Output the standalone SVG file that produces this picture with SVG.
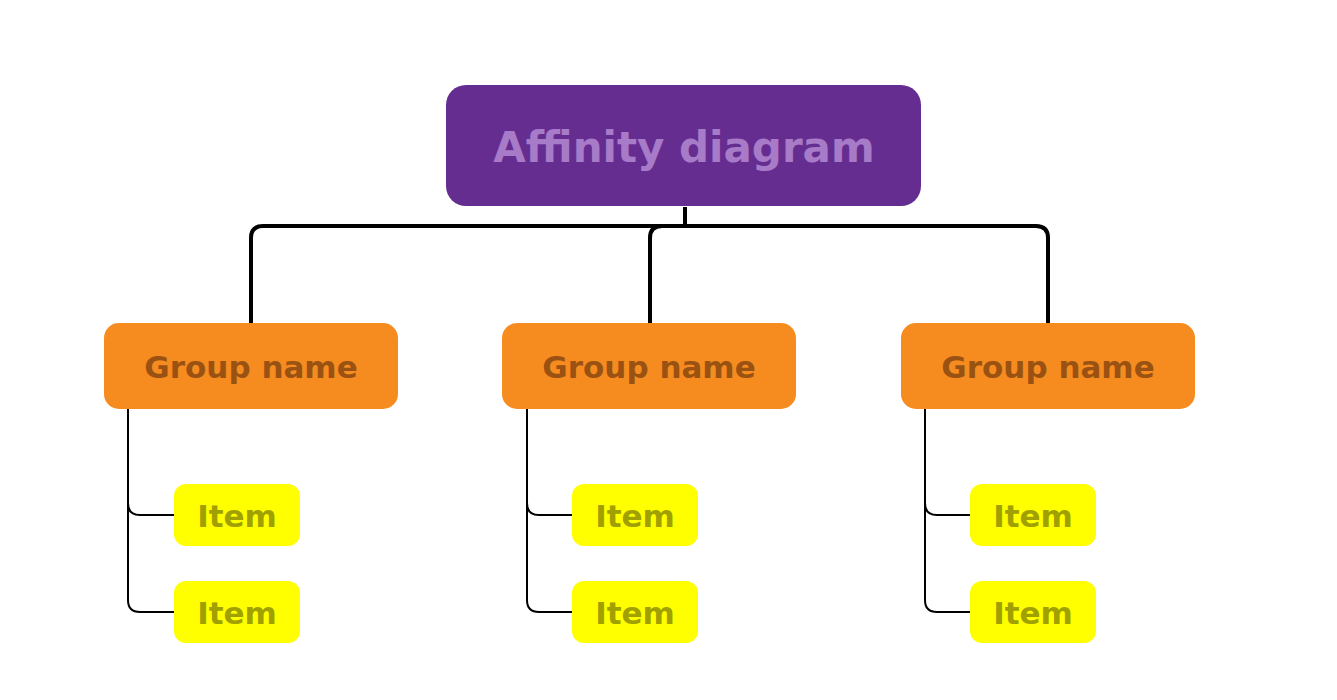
<svg xmlns="http://www.w3.org/2000/svg" width="1337" height="700" viewBox="0 0 1337 700">
<style>
.t{font-family:"DejaVu Sans",sans-serif;font-weight:bold;text-anchor:middle;dominant-baseline:central}
.g{fill:#f68b1f}.gt{fill:#9a5212;font-size:31px}
.i{fill:#ffff00}.it{fill:#a0a000;font-size:31px}
.c1{fill:none;stroke:#000;stroke-width:4}
.c2{fill:none;stroke:#000;stroke-width:2}
</style>
<rect width="1337" height="700" fill="#fff"/>
<g id="connectors">
<path class="c1" d="M685 207V226M251 323V238Q251 226 263 226H1036Q1048 226 1048 238V323M650 323V238Q650 226 662 226"/>
<path class="c2" d="M128 408V503Q128 515 140 515H175M128 503V600Q128 612 140 612H175"/>
<path class="c2" d="M527 408V503Q527 515 539 515H573M527 503V600Q527 612 539 612H573"/>
<path class="c2" d="M925 408V503Q925 515 937 515H971M925 503V600Q925 612 937 612H971"/>
</g>
<g id="root"><rect x="446" y="85" width="475" height="121" rx="20" fill="#662d91"/><text class="t" x="684" y="147" font-size="42" fill="#a77bc7">Affinity diagram</text></g>
<g id="g1"><rect class="g" x="104" y="323" width="294" height="86" rx="15"/><text class="t gt" x="251" y="367">Group name</text></g>
<g id="g2"><rect class="g" x="502" y="323" width="294" height="86" rx="15"/><text class="t gt" x="649" y="367">Group name</text></g>
<g id="g3"><rect class="g" x="901" y="323" width="294" height="86" rx="15"/><text class="t gt" x="1048" y="367">Group name</text></g>
<g id="i1"><rect class="i" x="174" y="484" width="126" height="62" rx="12"/><text class="t it" x="237" y="516">Item</text></g>
<g id="i2"><rect class="i" x="174" y="581" width="126" height="62" rx="12"/><text class="t it" x="237" y="613">Item</text></g>
<g id="i3"><rect class="i" x="572" y="484" width="126" height="62" rx="12"/><text class="t it" x="635" y="516">Item</text></g>
<g id="i4"><rect class="i" x="572" y="581" width="126" height="62" rx="12"/><text class="t it" x="635" y="613">Item</text></g>
<g id="i5"><rect class="i" x="970" y="484" width="126" height="62" rx="12"/><text class="t it" x="1033" y="516">Item</text></g>
<g id="i6"><rect class="i" x="970" y="581" width="126" height="62" rx="12"/><text class="t it" x="1033" y="613">Item</text></g>
</svg>
